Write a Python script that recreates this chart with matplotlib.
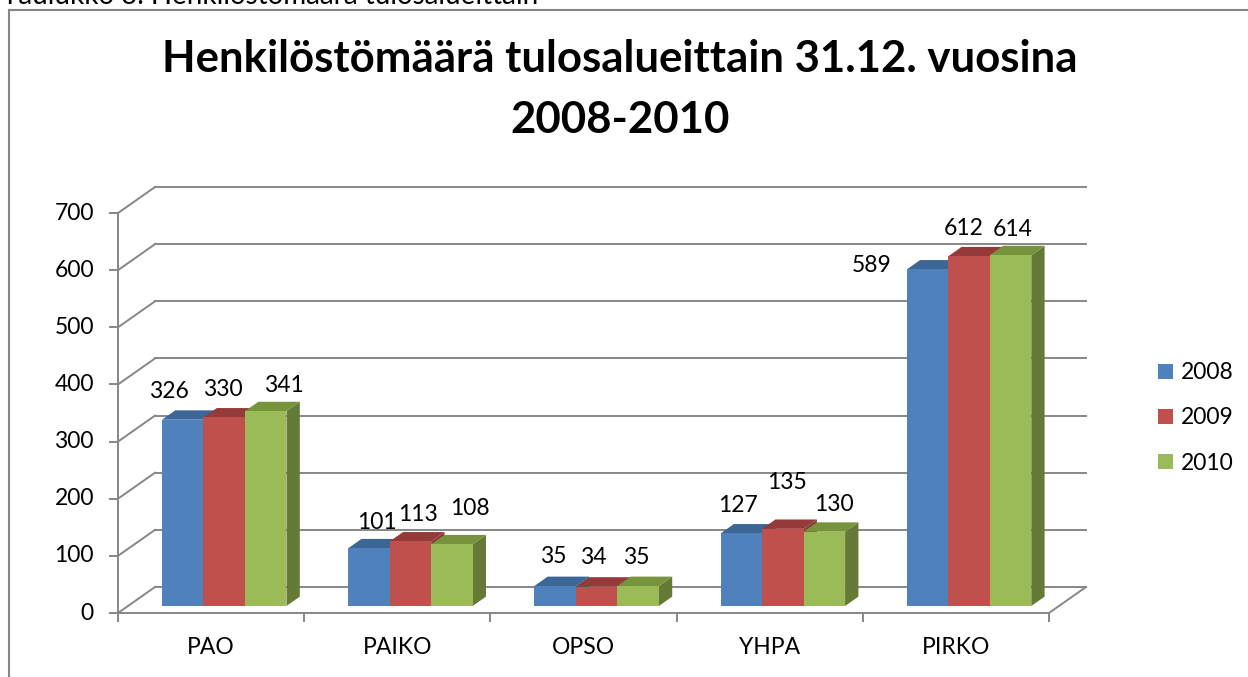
import matplotlib
matplotlib.use("Agg")
import matplotlib.pyplot as plt
from matplotlib.patches import Polygon, Patch
from matplotlib.lines import Line2D
import numpy as np

plt.rcParams['font.family'] = ['Lato', 'DejaVu Sans']

# data
categories = ["PAO", "PAIKO", "OPSO", "YHPA", "PIRKO"]
years = ["2008", "2009", "2010"]
v2008 = [326, 101, 35, 127, 589]
v2009 = [330, 113, 34, 135, 612]
v2010 = [341, 108, 35, 130, 614]
yticks = [0, 100, 200, 300, 400, 500, 600, 700]
title = "Henkilöstömäärä tulosalueittain 31.12. vuosina\n2008-2010"
caption = "Taulukko 3. Henkilöstömäärä tulosalueittain"

series = [v2008, v2009, v2010]
front_col = ["#4F81BD", "#C0504D", "#9BBB59"]
top_col = ["#3C6696", "#943A38", "#77933C"]
side_col = ["#385D8A", "#8C3836", "#657A36"]
grid_col = "#878787"

# label nudges in pixels (dx, dy), per category, per series
nudge = [[(-14, 28), (-1, 28), (18, 26)],
         [(8, 26), (8, 27), (18, 36)],
         [(-2, 29), (-3, 29), (-2, 28)],
         [(-3, 28), (4, 46), (10, 27)],
         [(-56, 4), (-5, 28), (2, 26)]]

W, H = 1248, 677
fig = plt.figure(figsize=(W / 100, H / 100), dpi=100)
ax = fig.add_axes([0, 0, 1, 1])

cat_px = 186.2      # pixels per category
val_px = 0.5714     # pixels per value unit
x0_px, y0_px = 118, 613
ax.set_xlim(-0.5 - x0_px / cat_px, -0.5 + (W - x0_px) / cat_px)
ax.set_ylim(-(H - y0_px) / val_px, y0_px / val_px)
ax.axis("off")

DX = 37 / cat_px
DY = 26 / val_px
n = len(categories)
fs = 16.5

def proj(x, v, d):
    return (x + d * DX, v + d * DY)

lw = 1.4
# back wall grid + left wall diagonals
for v in yticks:
    ax.plot([-0.5 + DX, n - 0.5 + DX], [v + DY, v + DY], color=grid_col, lw=lw, zorder=1)
    ax.plot([-0.5, -0.5 + DX], [v, v + DY], color=grid_col, lw=lw, zorder=1)
    ax.plot([-0.5 - 8 / cat_px, -0.5], [v, v], color=grid_col, lw=lw, zorder=1)
    ax.annotate(str(v), xy=(-0.5, v), xytext=(-24 * 0.72, 0), textcoords="offset points",
                ha="right", va="center", fontsize=fs, color="black")
# floor
ax.plot([-0.5, n - 0.5], [0, 0], color=grid_col, lw=lw, zorder=1)
ax.plot([n - 0.5, n - 0.5 + DX], [0, DY], color=grid_col, lw=lw, zorder=1)
ax.plot([-0.5, -0.5], [0, yticks[-1]], color=grid_col, lw=lw, zorder=1)
for b in range(n + 1):
    ax.plot([b - 0.5, b - 0.5], [0, -8 / val_px], color=grid_col, lw=lw, zorder=1)
for i, c in enumerate(categories):
    ax.annotate(c, xy=(i, 0), xytext=(0, -35 * 0.72), textcoords="offset points",
                ha="center", va="center", fontsize=fs, color="black")

# bars
bw = 41.5 / cat_px
d0, d1 = 0.27, 0.63
for i in range(n):
    left = i - 0.5 + 34 / cat_px
    for k, vals in enumerate(series):
        v = vals[i]
        xl = left + k * bw
        xr = xl + bw
        fl = proj(xl, 0, d0); fr = proj(xr, 0, d0)
        tl = proj(xl, v, d0); tr = proj(xr, v, d0)
        btl = proj(xl, v, d1); btr = proj(xr, v, d1); bbr = proj(xr, 0, d1)
        ax.add_patch(Polygon([fr, bbr, btr, tr], closed=True, fc=side_col[k], ec="none", zorder=2))
        ax.add_patch(Polygon([tl, btl, btr, tr], closed=True, fc=top_col[k], ec="none", zorder=2))
        ax.add_patch(Polygon([fl, fr, tr, tl], closed=True, fc=front_col[k], ec="none", zorder=2))
        cx, cy = proj((xl + xr) / 2, v, d0)
        dx, dy = nudge[i][k]
        ax.annotate(str(v), xy=(cx, cy), xytext=(dx * 0.72, dy * 0.72), textcoords="offset points",
                    ha="center", va="center", fontsize=fs, color="black", zorder=3)

# legend
handles = [Patch(facecolor=front_col[k], edgecolor="none", label=years[k]) for k in range(3)]
fig.legend(handles=handles, loc="center left", bbox_to_anchor=(1147 / W, 1 - 418 / H),
           frameon=False, fontsize=fs, handlelength=0.65, handleheight=0.65,
           handletextpad=0.35, labelspacing=1.05, borderpad=0)

# chart frame and titles
fig.add_artist(Line2D([9 / W, 9 / W], [0, 1 - 10 / H], color=grid_col, lw=1.5))
fig.add_artist(Line2D([9 / W, 1], [1 - 10 / H, 1 - 10 / H], color=grid_col, lw=1.5))
fig.text(620 / W, 1 - 72 / H, title.split("\n")[0], ha="center", va="baseline",
         fontsize=31.5, fontweight="bold")
fig.text(620 / W, 1 - 133 / H, title.split("\n")[1], ha="center", va="baseline",
         fontsize=31.5, fontweight="bold")
fig.text(2 / W, 1 - 4 / H, caption, ha="left", va="baseline", fontsize=20)

fig.savefig("out.png", dpi=100)
